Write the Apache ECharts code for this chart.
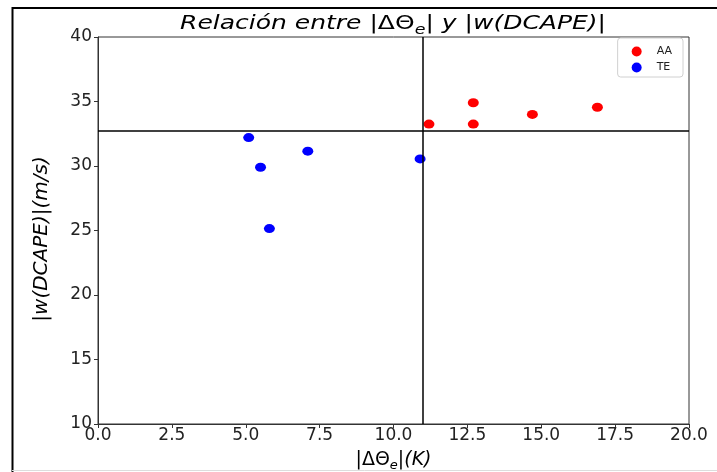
<!DOCTYPE html>
<html>
<head>
<meta charset="utf-8">
<script src="https://cdn.jsdelivr.net/npm/echarts@6/dist/echarts.min.js"></script>
<style>html,body{margin:0;padding:0;background:#fff;}#c{width:717px;height:472px;}</style>
</head>
<body>
<div id="c"></div>
<script>
const aaX = [11.2, 12.7, 12.7, 14.7, 16.9];
const aaY = [33.25, 34.9, 33.25, 34.0, 34.55];
const teX = [5.1, 5.5, 7.1, 10.9, 5.8];
const teY = [32.2, 29.9, 31.15, 30.55, 25.15];
const xTicks = [0, 2.5, 5, 7.5, 10, 12.5, 15, 17.5, 20];
const yTicks = [10, 15, 20, 25, 30, 35, 40];
const vLineX = 11.0;
const hLineY = 32.7;
const seriesNames = ['AA', 'TE'];

const font = 'DejaVu Sans';
const chart = echarts.init(document.getElementById('c'), null, {renderer: 'canvas'});
const zip = (xs, ys) => xs.map((x, i) => [x, ys[i]]);

chart.setOption({
  animation: false,
  backgroundColor: '#fff',
  grid: {left: 98, right: 28, top: 37, bottom: 48, show: true, borderColor: '#333', borderWidth: 1, backgroundColor: 'transparent', outerBoundsMode: 'none', containLabel: false},
  graphic: [
    {type: 'line', shape: {x1: 12.5, y1: 7, x2: 12.5, y2: 472}, style: {stroke: '#000', lineWidth: 2}},
    {type: 'line', shape: {x1: 12, y1: 8, x2: 717, y2: 8}, style: {stroke: '#000', lineWidth: 2}},
    {type: 'line', shape: {x1: 12, y1: 470.5, x2: 717, y2: 470.5}, style: {stroke: '#ddd', lineWidth: 1}},
    {type: 'text', x: 393, y: 24, scaleX: 1.25, style: {
      text: '{i|Relación entre |}{g|ΔΘ}{s|e}{i|| y |w(DCAPE)|}',
      align: 'center', verticalAlign: 'middle',
      rich: {
        i: {fontFamily: font, fontStyle: 'italic', fontSize: 20, lineHeight: 26, fill: '#000'},
        g: {fontFamily: font, fontSize: 20, lineHeight: 26, fill: '#000'},
        s: {fontFamily: font, fontStyle: 'italic', fontSize: 14, lineHeight: 12, verticalAlign: 'bottom', fill: '#000'}
      }
    }},
    {type: 'text', x: 42, y: 239, rotation: Math.PI / 2, style: {
      text: '|w(DCAPE)|(m/s)', align: 'center', verticalAlign: 'middle',
      fontFamily: font, fontStyle: 'italic', fontSize: 20, fill: '#000'
    }}
  ],
  legend: {
    orient: 'vertical', right: 34, top: 38,
    data: seriesNames,
    icon: 'circle', itemWidth: 30, itemHeight: 10, itemGap: 5,
    borderColor: '#d0d0d0', borderWidth: 1, borderRadius: 3,
    padding: [8, 11, 4, 14],
    textStyle: {fontFamily: font, fontSize: 11, color: '#222'}
  },
  xAxis: {
    type: 'value', min: 0, max: 20, interval: 2.5,
    name: '{i||}{g|ΔΘ}{s|e}{i||(K)}', nameLocation: 'middle', nameGap: 24,
    nameTextStyle: {rich: {
      i: {fontFamily: font, fontStyle: 'italic', fontSize: 19, lineHeight: 24, color: '#000'},
      g: {fontFamily: font, fontSize: 19, lineHeight: 24, color: '#000'},
      s: {fontFamily: font, fontStyle: 'italic', fontSize: 13, lineHeight: 10, verticalAlign: 'bottom', color: '#000'}
    }},
    splitLine: {show: false},
    axisLine: {show: true, onZero: false, lineStyle: {color: '#333'}},
    axisTick: {show: true, length: 4, lineStyle: {color: '#333'}},
    axisLabel: {fontFamily: font, fontSize: 17, color: '#222', margin: 3, formatter: v => v.toFixed(1)}
  },
  yAxis: {
    type: 'value', min: 10, max: 40, interval: 5,
    splitLine: {show: false},
    axisLine: {show: true, onZero: false, lineStyle: {color: '#333'}},
    axisTick: {show: true, length: 4, lineStyle: {color: '#333'}},
    axisLabel: {fontFamily: font, fontSize: 17, color: '#222', margin: 6}
  },
  series: [
    {
      name: seriesNames[0], type: 'scatter', symbol: 'circle', symbolSize: [11, 9],
      itemStyle: {color: '#ff0000', opacity: 1},
      data: zip(aaX, aaY),
      markLine: {
        silent: true, symbol: 'none', label: {show: false},
        lineStyle: {color: '#000', width: 1.5, type: 'solid'},
        data: [{xAxis: vLineX}, {yAxis: hLineY}]
      }
    },
    {
      name: seriesNames[1], type: 'scatter', symbol: 'circle', symbolSize: [11, 9],
      itemStyle: {color: '#0000ff', opacity: 1},
      data: zip(teX, teY)
    }
  ]
});
</script>
</body>
</html>
